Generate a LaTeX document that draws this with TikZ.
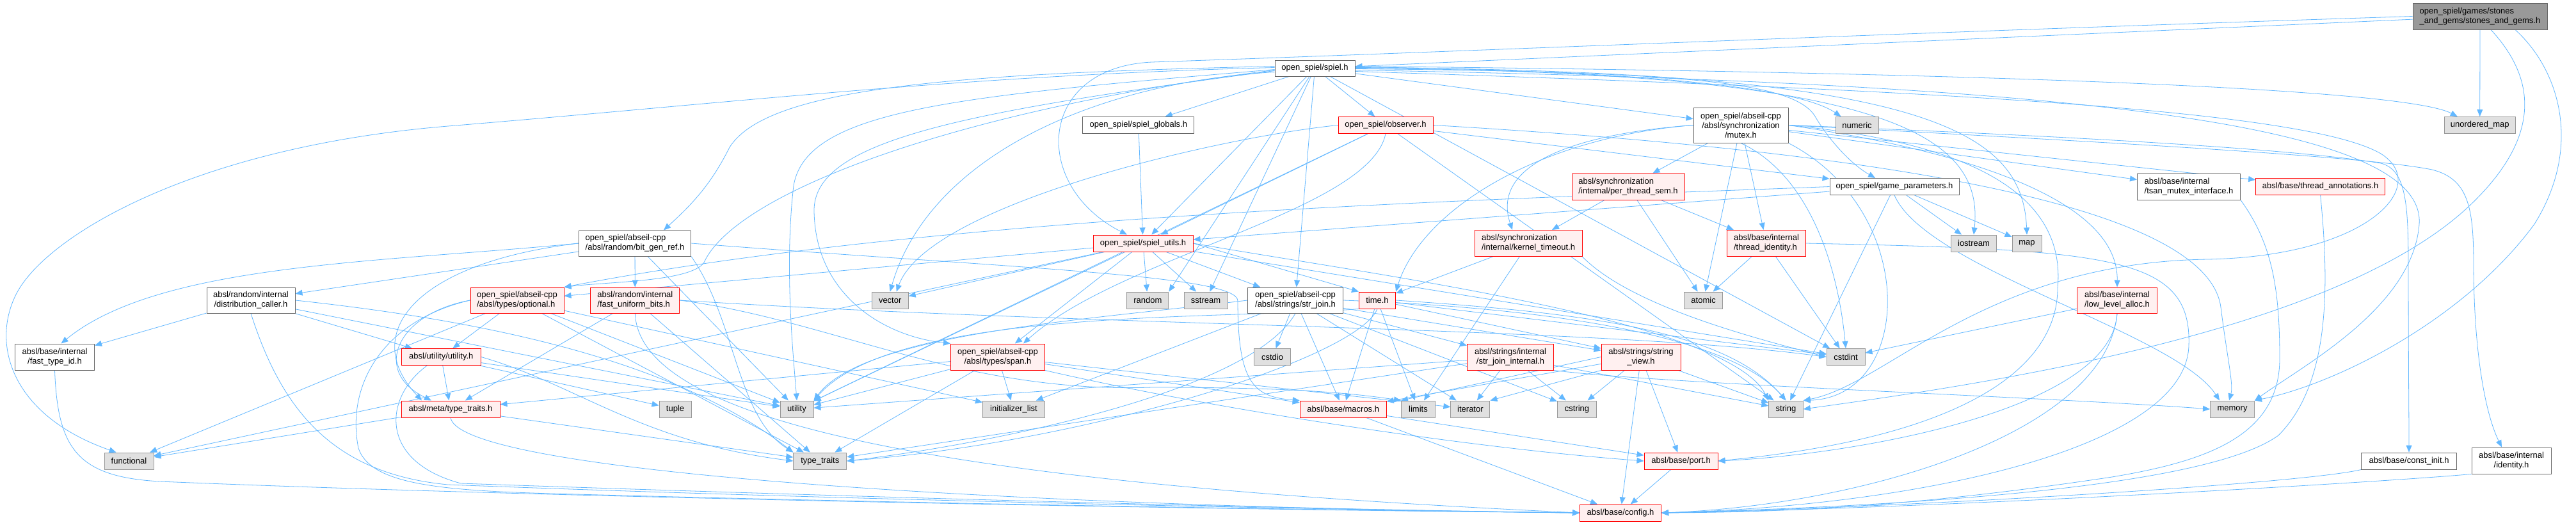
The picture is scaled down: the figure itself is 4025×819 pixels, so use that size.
\documentclass[tikz,border=0pt]{standalone}
\usepackage{fontspec}
\setmainfont{Liberation Sans}
\usetikzlibrary{arrows.meta}
\definecolor{edgeblue}{HTML}{63B8FF}
\definecolor{greyA}{HTML}{666666}
\definecolor{greyB}{HTML}{999999}
\definecolor{sysfill}{HTML}{E0E0E0}
\definecolor{pinkfill}{HTML}{FFF0F0}
\definecolor{redline}{HTML}{FF0000}
\pgfdeclarelayer{bg}
\pgfsetlayers{bg,main}
\newcommand\dfont{\fontsize{13}{15}\selectfont}
\tikzset{
  box/.style={draw, inner sep=0pt, line width=1pt, font=\dfont, align=center},
  wbox/.style={box, fill=white, draw=greyA},
  gbox/.style={box, fill=sysfill, draw=greyB},
  rbox/.style={box, fill=pinkfill, draw=redline},
  rootbox/.style={box, fill=greyB, draw=greyA},
  edge/.style={draw=edgeblue, line width=0.8pt, -{Triangle[length=11pt,width=9pt]}},
}
\newcommand\mynode[7]{\node[#2, minimum width=#5pt, minimum height=#6pt] (#1) at (#3,#4) {#7};}
\newcommand\ed[2]{\draw[edge] (#1) -- (#2);}
\begin{document}
\begin{tikzpicture}[x=1pt,y=-1pt]
\useasboundingbox (0,0) rectangle (4025,819);
\begin{pgfonlayer}{bg}
\fill[white] (0,0) rectangle (4025,819);
\end{pgfonlayer}
% ---------------- nodes
\mynode{SG}{rootbox,align=left}{3875}{25.5}{210}{41}{open\_spiel/games/stones\\\_and\_gems/stones\_and\_gems.h}
\mynode{SP}{wbox}{2054.5}{106.5}{125}{25}{open\_spiel/spiel.h}
\mynode{GLOB}{wbox}{1778.8}{195.5}{174}{26}{open\_spiel/spiel\_globals.h}
\mynode{OBS}{rbox}{2165}{195.5}{148}{26}{open\_spiel/observer.h}
\mynode{MUTEX}{wbox}{2720}{195.5}{148}{55}{open\_spiel/abseil-cpp\\/absl/synchronization\\/mutex.h}
\mynode{NUM}{gbox}{2901.5}{195.5}{67}{26}{numeric}
\mynode{UM}{gbox}{3874.7}{195.5}{111}{26}{unordered\_map}
\mynode{SEM}{rbox,align=left}{2544}{291.5}{176}{41}{absl/synchronization\\/internal/per\_thread\_sem.h}
\mynode{GP}{wbox}{2960}{291.5}{202}{26}{open\_spiel/game\_parameters.h}
\mynode{TSAN}{wbox,align=left}{3420}{291.5}{161}{41}{absl/base/internal\\/tsan\_mutex\_interface.h}
\mynode{TA}{rbox}{3625.6}{291.5}{202}{26}{absl/base/thread\_annotations.h}
\mynode{BGR}{wbox,align=left}{992}{380}{175}{40}{open\_spiel/abseil-cpp\\/absl/random/bit\_gen\_ref.h}
\mynode{UTILS}{rbox}{1786}{380}{156}{26}{open\_spiel/spiel\_utils.h}
\mynode{KT}{rbox,align=left}{2388}{380}{168}{41}{absl/synchronization\\/internal/kernel\_timeout.h}
\mynode{TID}{rbox,align=left}{2760}{380}{123}{41}{absl/base/internal\\/thread\_identity.h}
\mynode{IOS}{gbox}{3084}{380}{71}{26}{iostream}
\mynode{MAP}{gbox}{3167}{380}{46}{26}{map}
\mynode{DC}{wbox}{392}{469}{138}{40}{absl/random/internal\\/distribution\_caller.h}
\mynode{OPT}{rbox,align=left}{808}{469}{146}{40}{open\_spiel/abseil-cpp\\/absl/types/optional.h}
\mynode{FUB}{rbox,align=left}{992.3}{469}{139}{40}{absl/random/internal\\/fast\_uniform\_bits.h}
\mynode{VEC}{gbox}{1390.7}{469}{57}{26}{vector}
\mynode{RAND}{gbox}{1793.3}{469}{65}{26}{random}
\mynode{SSTR}{gbox}{1884}{469}{68}{26}{sstream}
\mynode{SJ}{wbox,align=left}{2024}{469}{149}{40}{open\_spiel/abseil-cpp\\/absl/strings/str\_join.h}
\mynode{TIME}{rbox}{2152}{469}{57}{26}{time.h}
\mynode{ATOM}{gbox}{2661.6}{469}{60}{26}{atomic}
\mynode{LLA}{rbox,align=left}{3308}{469}{124.5}{40}{absl/base/internal\\/low\_level\_alloc.h}
\mynode{FTI}{wbox}{85.5}{557.5}{124}{41}{absl/base/internal\\/fast\_type\_id.h}
\mynode{UU}{rbox}{689.3}{557.5}{124}{26}{absl/utility/utility.h}
\mynode{SPAN}{rbox}{1559}{557.5}{147}{41}{open\_spiel/abseil-cpp\\/absl/types/span.h}
\mynode{CSTDIO}{gbox}{1988}{557.5}{57}{26}{cstdio}
\mynode{SJI}{rbox}{2360}{557.5}{135}{41}{absl/strings/internal\\/str\_join\_internal.h}
\mynode{SV}{rbox}{2564}{557.5}{124}{41}{absl/strings/string\\\_view.h}
\mynode{CSTDINT}{gbox}{2884}{557.5}{60}{26}{cstdint}
\mynode{MTT}{rbox}{704}{639}{154}{26}{absl/meta/type\_traits.h}
\mynode{TUPLE}{gbox}{1055}{639}{50}{26}{tuple}
\mynode{UTIL}{gbox}{1245}{639}{52}{26}{utility}
\mynode{IL}{gbox}{1584}{639}{97}{26}{initializer\_list}
\mynode{MAC}{rbox}{2098.7}{639}{135}{26}{absl/base/macros.h}
\mynode{LIM}{gbox}{2216}{639}{53}{26}{limits}
\mynode{ITER}{gbox}{2297.4}{639}{61}{26}{iterator}
\mynode{CSTR}{gbox}{2464}{639}{61}{26}{cstring}
\mynode{STRG}{gbox}{2790.5}{639}{53.5}{26}{string}
\mynode{MEM}{gbox}{3488}{639}{69}{26}{memory}
\mynode{FUNC}{gbox}{201.5}{720}{77}{26}{functional}
\mynode{TT}{gbox}{1281.3}{720}{83}{26}{type\_traits}
\mynode{PORT}{rbox}{2626.5}{720}{115}{26}{absl/base/port.h}
\mynode{CI}{wbox}{3764}{720}{148.6}{26}{absl/base/const\_init.h}
\mynode{ID}{wbox}{3924}{719.5}{124}{41}{absl/base/internal\\/identity.h}
\mynode{CFG}{rbox}{2532}{801}{127}{26}{absl/base/config.h}
% ---------------- edges
\begin{pgfonlayer}{bg}
% root
\ed{SG}{SP}
\draw[edge] (SG.west) .. controls (3000,50) and (2300,80) .. (1800,97) .. controls (1620,105) and (1610,290) .. ([xshift=-25pt]UTILS.north);
\ed{SG}{UM}
\draw[edge] ([xshift=17pt]SG.south) .. controls (3960,120) and (3975,210) .. (3860,320) .. controls (3650,520) and (3100,600) .. (STRG.east);
\draw[edge] ([xshift=55pt]SG.south) .. controls (4000,110) and (4035,230) .. (3960,350) .. controls (3850,500) and (3650,600) .. (MEM.north east);
% spiel.h
\ed{SP}{GLOB}
\ed{SP}{OBS}
\ed{SP}{MUTEX}
\ed{SP}{UTILS}
\ed{SP}{RAND.north east}
\ed{SP}{SSTR}
\ed{SP}{SJ}
\ed{SP}{CSTDINT}
\draw[edge] ([yshift=2pt]SP.east) .. controls (2500,110) and (2800,130) .. ([xshift=-25pt]NUM.north);
\draw[edge] ([yshift=-1pt]SP.east) .. controls (2650,112) and (2800,130) .. (2835,180) .. controls (2855,215) and (2890,255) .. ([xshift=-30pt]GP.north);
\draw[edge] ([yshift=0pt]SP.east) .. controls (2950,112) and (3100,210) .. (IOS.north);
\draw[edge] ([yshift=1pt]SP.east) .. controls (3000,110) and (3160,200) .. (MAP.north);
\draw[edge] ([yshift=3pt]SP.east) .. controls (3000,112) and (3750,135) .. ([xshift=-35pt]UM.north);
\draw[edge] ([yshift=-3pt]SP.east) .. controls (3300,130) and (3790,200) .. (3780,350) .. controls (3770,480) and (3600,570) .. (MEM.north east);
\draw[edge] ([yshift=-5pt]SP.east) .. controls (3000,140) and (3600,170) .. (3720,240) .. controls (3800,290) and (3700,400) .. (3450,405) .. controls (3100,410) and (2950,600) .. (STRG.north east);
\draw[edge] ([yshift=3pt]SP.west) .. controls (1500,115) and (1200,135) .. (1140,230) .. controls (1110,290) and (1080,320) .. ([xshift=45pt]BGR.north);
\draw[edge] ([yshift=1pt]SP.west) .. controls (1500,118) and (1150,160) .. (700,197) .. controls (300,230) and (70,370) .. (25,460) .. controls (-15,540) and (20,650) .. ([xshift=-20pt]FUNC.north);
\draw[edge] ([yshift=-2pt]SP.west) .. controls (1500,150) and (1260,170) .. (1240,290) .. controls (1225,420) and (1240,560) .. (UTIL.north);
\draw[edge] ([yshift=-4pt]SP.west) .. controls (1500,175) and (1270,220) .. (1272,330) .. controls (1274,460) and (1380,525) .. (SPAN.north west);
\draw[edge] ([yshift=-3pt]SP.west) .. controls (1500,170) and (1150,300) .. (1100,410) .. controls (1080,440) and (950,440) .. (OPT.north east);
\draw[edge] ([yshift=-6pt]SP.west) .. controls (1700,130) and (1450,250) .. (VEC.north);
% observer
\ed{OBS}{UTILS}
\ed{OBS}{UTIL}
\ed{OBS}{GP}
\ed{OBS}{STRG}
\draw[edge] (OBS.west) .. controls (1900,215) and (1450,320) .. ([xshift=10pt]VEC.north);
\draw[edge] (OBS.south) .. controls (2140,330) and (1750,400) .. ([xshift=40pt]SPAN.north);
\draw[edge] (OBS.east) .. controls (3000,240) and (3450,330) .. (3470,480) .. controls (3480,560) and (3490,600) .. ([xshift=-5pt]MEM.north);
% mutex
\ed{MUTEX}{SEM}
\ed{MUTEX}{TID}
\ed{MUTEX}{TSAN}
\ed{MUTEX}{TA}
\ed{MUTEX}{ATOM}
\draw[edge] (MUTEX.west) .. controls (2450,210) and (2330,260) .. ([xshift=-25pt]KT.north);
\draw[edge] (MUTEX.west) .. controls (2400,215) and (2220,330) .. (TIME.north east);
\draw[edge] (MUTEX.east) .. controls (3100,240) and (3310,320) .. (LLA.north);
\draw[edge] (MUTEX.south) .. controls (2820,270) and (2870,400) .. (CSTDINT.north);
\draw[edge] (MUTEX.south east) .. controls (3000,330) and (2990,620) .. (STRG.north east);
\draw[edge] (MUTEX.east) .. controls (3300,215) and (3600,235) .. (3720,255) .. controls (3760,265) and (3763,320) .. (3763,420) .. controls (3763,550) and (3764,650) .. (CI.north);
\draw[edge] (MUTEX.east) .. controls (3350,225) and (3700,245) .. (3800,265) .. controls (3860,280) and (3865,330) .. (3865,420) .. controls (3866,560) and (3885,650) .. ([xshift=-15pt]ID.north);
\draw[edge] (MUTEX.east) .. controls (3050,220) and (3230,290) .. (3215,450) .. controls (3215,560) and (3100,680) .. (PORT.east);
% per_thread_sem
\ed{SEM}{KT}
\ed{SEM}{ATOM}
\ed{SEM}{TID}
% kernel_timeout
\ed{KT}{TIME}
\ed{KT}{LIM}
\draw[edge] (KT.south east) .. controls (2550,480) and (2750,530) .. (CSTDINT.west);
% thread_identity
\ed{TID}{ATOM}
\ed{TID}{CSTDINT}
\draw[edge] (TID.east) .. controls (3300,390) and (3425,400) .. (3420,540) .. controls (3415,700) and (3000,790) .. (CFG.east);
% game_parameters
\ed{GP}{UTILS}
\ed{GP}{IOS}
\ed{GP}{MAP}
\ed{GP}{STRG}
\draw[edge] (GP.west) .. controls (2400,310) and (1500,330) .. (OPT.north east);
\draw[edge] (GP.south) .. controls (3010,420) and (3400,520) .. ([xshift=-20pt]MEM.north);
% spiel_globals
\ed{GLOB}{UTILS}
% spiel_utils
\ed{UTILS}{RAND}
\ed{UTILS}{SSTR}
\ed{UTILS}{VEC}
\ed{UTILS}{SPAN}
\ed{UTILS}{OPT}
\ed{UTILS}{FUNC}
\ed{UTILS}{SJ}
\ed{UTILS.east}{TIME.north west}
\ed{UTILS}{CSTDINT}
\ed{UTILS}{UTIL}
\draw[edge] (UTILS.east) .. controls (2150,430) and (2700,500) .. (STRG.north west);
% bit_gen_ref
\draw[edge] (BGR.west) .. controls (600,410) and (250,410) .. ([xshift=10pt]FTI.north);
\ed{BGR}{DC}
\ed{BGR}{FUB}
\ed{BGR}{UTIL}
\draw[edge] (BGR.west) .. controls (650,410) and (560,520) .. ([xshift=-45pt]MTT.north);
\draw[edge] (BGR.south east) .. controls (1150,500) and (1150,650) .. (TT.north west);
\draw[edge] (BGR.east) .. controls (1600,420) and (1934,430) .. (1934,470) .. controls (1934,600) and (1960,620) .. (MAC.north west);
% distribution_caller
\ed{DC}{FTI}
\ed{DC}{UU}
\ed{DC}{UTIL}
\draw[edge] (DC.east) .. controls (750,500) and (1050,560) .. (TT.north west);
\draw[edge] (DC.south) .. controls (440,640) and (520,740) .. (700,757) .. controls (1300,780) and (2000,795) .. (CFG.west);
% fast_type_id
\draw[edge] (FTI.south) .. controls (90,700) and (120,745) .. (250,752) .. controls (800,775) and (1800,795) .. (CFG.west);
% optional
\ed{OPT}{UU}
\ed{OPT}{UTIL}
\ed{OPT}{TT}
\ed{OPT}{FUNC}
\ed{OPT}{IL}
\draw[edge] (OPT.west) .. controls (620,490) and (580,580) .. ([xshift=-30pt]MTT.north);
\draw[edge] (OPT.west) .. controls (600,500) and (540,600) .. (560,700) .. controls (580,760) and (700,767) .. (900,772) .. controls (1500,788) and (2100,797) .. (CFG.west);
% fast_uniform_bits
\ed{FUB}{MTT}
\ed{FUB}{TT}
\draw[edge] (FUB.east) .. controls (1300,500) and (1500,615) .. (1800,605) .. controls (2000,605) and (2100,612) .. (LIM.north west);
\draw[edge] (FUB.east) .. controls (1700,510) and (2500,510) .. (CSTDINT.west);
\draw[edge] (FUB.south) .. controls (1000,680) and (1600,760) .. (CFG.west);
% utility.h
\ed{UU}{MTT}
\ed{UU}{TUPLE}
\ed{UU}{UTIL}
\draw[edge] (UU.east) .. controls (900,600) and (1000,690) .. (TT.west);
\draw[edge] ([xshift=-22pt]UU.south) .. controls (600,620) and (590,720) .. (720,755) .. controls (1300,775) and (2000,795) .. (CFG.west);
% meta/type_traits
\ed{MTT}{FUNC}
\ed{MTT}{TT}
\draw[edge] (MTT.south) .. controls (720,740) and (1600,792) .. (CFG.west);
% span
\ed{SPAN}{IL}
\ed{SPAN}{MTT}
\ed{SPAN}{UTIL}
\ed{SPAN}{TT}
\ed{SPAN}{ITER}
\ed{SPAN}{MAC}
\draw[edge] (SPAN.south east) .. controls (1900,640) and (2300,700) .. (PORT.west);
% str_join
\ed{SJ}{CSTDIO}
\ed{SJ}{IL}
\ed{SJ}{MAC}
\ed{SJ}{SJI}
\ed{SJ}{SV}
\ed{SJ}{ITER}
\ed{SJ}{CSTR}
\draw[edge] (SJ.east) .. controls (2400,480) and (2700,520) .. (STRG.north);
\draw[edge] (SJ.south) .. controls (1950,620) and (1500,700) .. (TT.east);
\draw[edge] (SJ.west) .. controls (1700,500) and (1350,520) .. (UTIL.north east);
% time
\ed{TIME}{MAC}
\ed{TIME}{LIM}
\ed{TIME}{SV}
\ed{TIME}{CSTDINT}
\draw[edge] (TIME.south) .. controls (2120,560) and (1700,690) .. (TT.east);
\draw[edge] (TIME.east) .. controls (2500,490) and (2700,520) .. (STRG.north);
\draw[edge] (TIME.south west) .. controls (1900,500) and (1400,480) .. (UTIL.north east);
% str_join_internal
\ed{SJI}{ITER}
\ed{SJI}{CSTR}
\ed{SJI}{TT}
\ed{SJI}{UTIL}
\ed{SJI}{STRG}
\draw[edge] (SJI.south east) .. controls (2600,600) and (3200,620) .. (MEM.west);
% string_view
\ed{SV.west}{LIM.north west}
\ed{SV.south west}{ITER.north east}
\ed{SV}{CSTR}
\ed{SV}{CFG}
\ed{SV}{PORT}
\ed{SV}{STRG}
\ed{SV}{MAC}
% macros, port
\ed{MAC}{CFG}
\ed{MAC}{PORT}
\ed{PORT}{CFG}
% low_level_alloc
\ed{LLA}{CSTDINT}
\draw[edge] (LLA.south) .. controls (3290,680) and (2900,790) .. (CFG.east);
\draw[edge] (LLA.south) .. controls (3300,640) and (2900,710) .. (PORT.east);
% tsan, annotations, const_init, identity
\draw[edge] (TSAN.south east) .. controls (3550,380) and (3562,450) .. (3562,560) .. controls (3562,680) and (3450,720) .. (3300,745) .. controls (3000,790) and (2800,800) .. (CFG.east);
\draw[edge] (TA.south) .. controls (3640,450) and (3640,600) .. (3560,680) .. controls (3450,760) and (3000,790) .. (CFG.east);
\draw[edge] (CI.south west) .. controls (3600,755) and (3000,792) .. (CFG.east);
\draw[edge] (ID.south west) .. controls (3700,755) and (3000,795) .. (CFG.east);
\end{pgfonlayer}
\end{tikzpicture}
\end{document}
